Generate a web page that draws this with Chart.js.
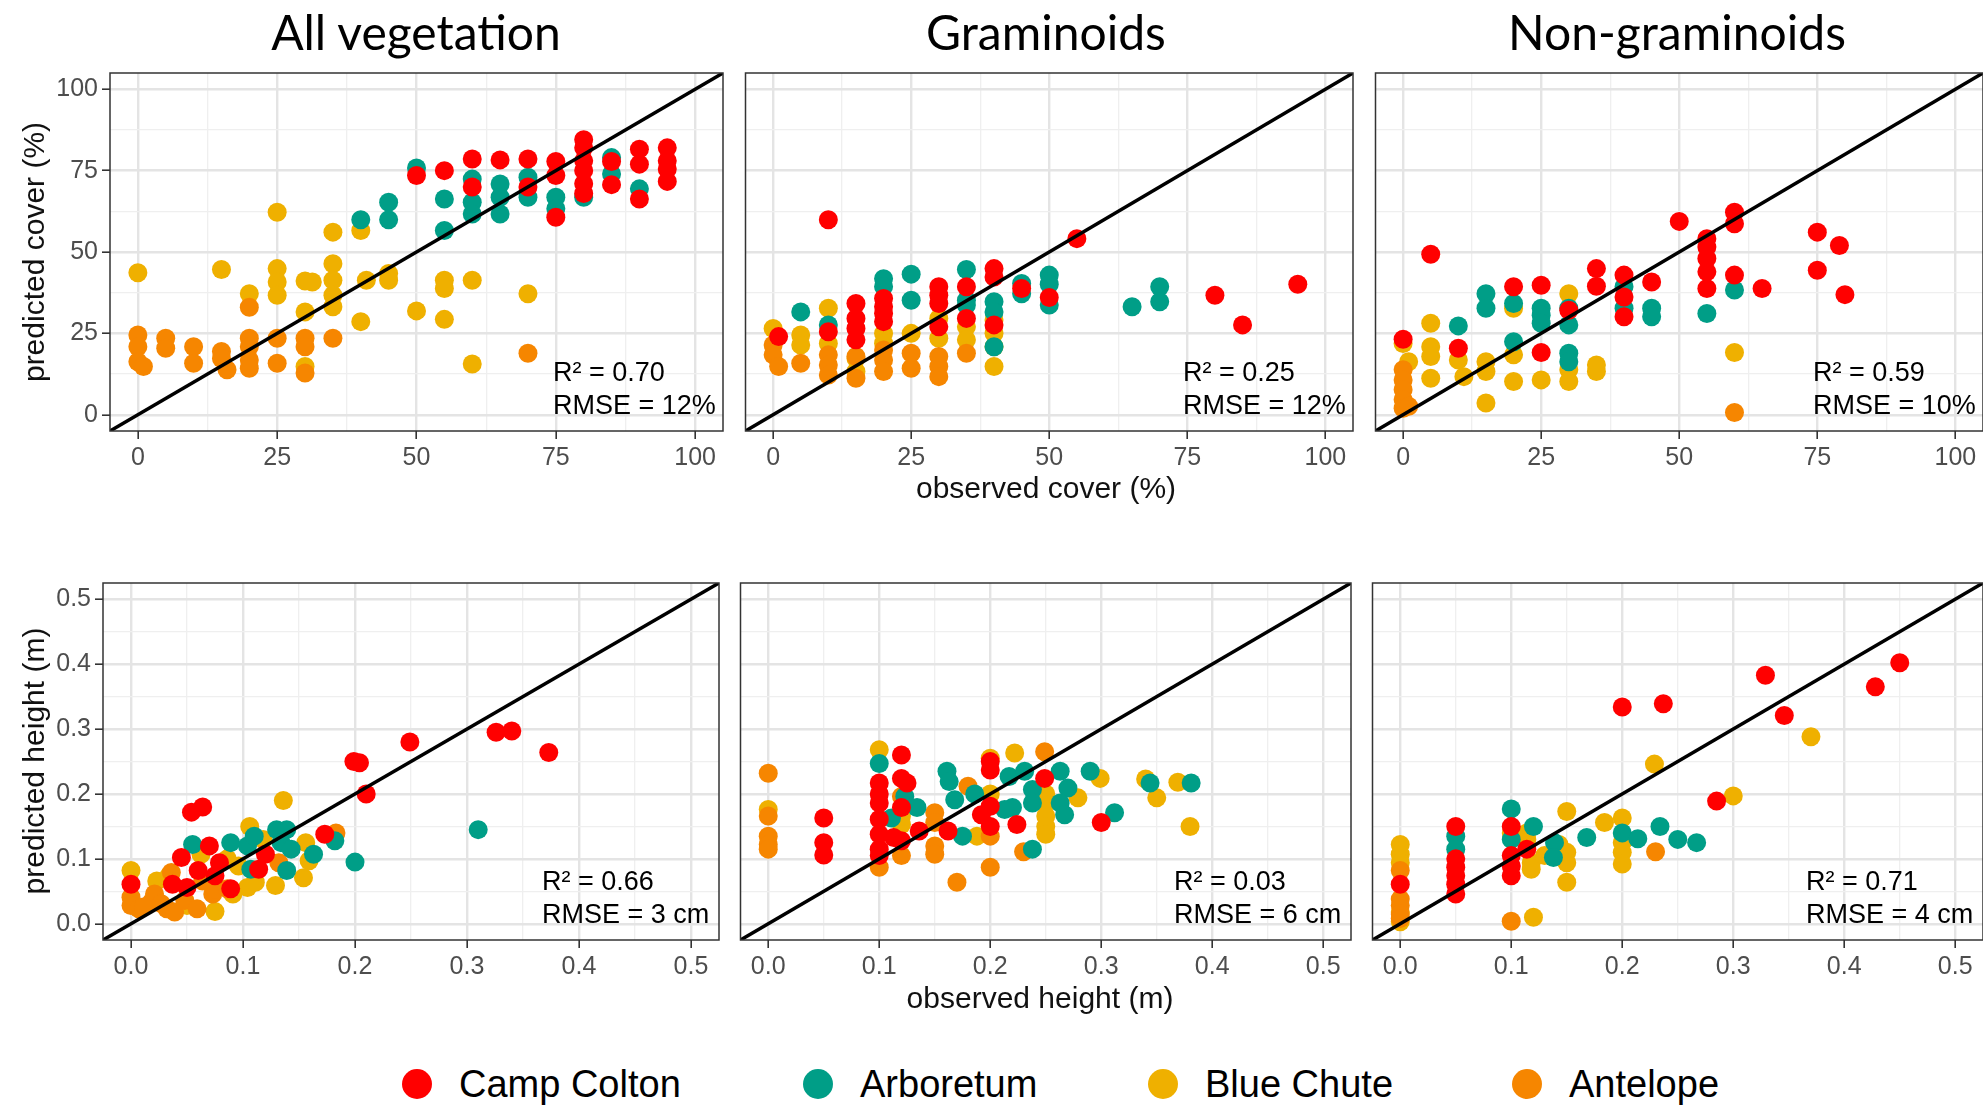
<!DOCTYPE html>
<html>
<head>
<meta charset="utf-8">
<script src="https://cdn.jsdelivr.net/npm/chart.js@4.4.1/dist/chart.umd.min.js"></script>
<style>
  html, body { margin: 0; padding: 0; background: #fff; }
  body { position: relative; width: 1983px; height: 1105px; overflow: hidden; font-family: "Liberation Sans", Arial, sans-serif; }
  canvas { position: absolute; }
  .lbl { position: absolute; white-space: nowrap; line-height: 1; transform: translate(-50%, -50%); color: #000; }
  .title { font-family: Lato, "Open Sans", sans-serif; font-size: 48px; }
  .axt { font-size: 30px; color: #111; }
  .rot { transform: translate(-50%, -50%) rotate(-90deg); }
  .leg { position: absolute; display: flex; align-items: center; font-size: 38px; line-height: 1; color: #000; }
  .dot { width: 30px; height: 30px; border-radius: 50%; margin-right: 27px; }
</style>
</head>
<body>
<script>
// ---- data -------------------------------------------------------------
const sites = ['Camp Colton', 'Arboretum', 'Blue Chute', 'Antelope'];
const siteColors = ['#ff0000', '#009e87', '#efb000', '#f68600'];

const coverTicks = [0, 25, 50, 75, 100];
const coverMinor = [12.5, 37.5, 62.5, 87.5];
const coverRange = [-5, 105];
const heightTicks = [0, 0.1, 0.2, 0.3, 0.4, 0.5];
const heightMinor = [0.05, 0.15, 0.25, 0.35, 0.45];
const heightRange = [-0.025, 0.525];

const panelTitles = ['All vegetation', 'Graminoids', 'Non-graminoids'];
const r2Values = ['0.70', '0.25', '0.59', '0.66', '0.03', '0.71'];
const rmseValues = ['12%', '12%', '10%', '3 cm', '6 cm', '4 cm'];

// All vegetation, cover (%)
const allCoverCamp = [[50,73.5],[55,75],[60,78.6],[60,70],[65,78.3],[70,78.6],[70,70],[75,77.8],[75,73.5],[75,60.7],[80,84.5],[80,82],[80,78],[80,75],[80,71],[80,68],[85,77.8],[85,70.7],[90,81.6],[90,77],[90,66.3],[95,82],[95,78],[95,75.5],[95,71.7]];
const allCoverArbo = [[40,59.9],[45,65.3],[45,59.9],[50,75.8],[55,66.3],[55,56.6],[60,72.4],[60,65.3],[60,61.7],[65,70.9],[65,66.8],[65,61.7],[70,73],[70,66.8],[75,66.8],[75,63.3],[80,66.8],[85,79],[85,74],[90,69.4]];
const allCoverBlue = [[0,43.6],[15,44.6],[20,37.2],[25,62.2],[25,44.9],[25,40.8],[25,36.7],[30,41.1],[31.3,40.8],[30,31.6],[30,14.8],[35,56.1],[35,46.4],[35,41.3],[35,36.7],[35,33.2],[40,56.6],[40,28.6],[41,41.3],[45,43.4],[45,41.3],[50,31.9],[55,41.3],[55,38.8],[55,29.3],[60,41.3],[60,15.6],[70,37.2]];
const allCoverAnte = [[0,24.5],[0,20.9],[0,16.3],[1,14.8],[5,23.5],[5,20.4],[10,20.9],[10,15.8],[15,19.4],[15,17.3],[16,13.8],[20,23.5],[20,20.9],[20,16.8],[20,14.3],[20,33],[25,23.5],[25,15.8],[30,23.5],[30,20.9],[30,12.8],[35,23.5],[70,18.9]];

// Graminoids, cover (%)
const gramCoverCamp = [[1,24],[10,59.9],[10,25.5],[15,34.2],[15,29.6],[15,26.5],[15,23],[20,35.7],[20,33.2],[20,31.1],[20,28.6],[30,39.3],[30,36.7],[30,34.2],[30,27],[35,39.3],[35,29.6],[40,44.9],[40,42.3],[40,27.6],[45,38.8],[50,36],[55,54.1],[80,36.7],[85,27.6],[95,40.1]];
const gramCoverArbo = [[5,31.6],[10,27.6],[20,41.8],[20,39.3],[25,43.2],[25,35.2],[35,44.6],[35,35.2],[35,33.7],[40,34.7],[40,31.6],[40,20.9],[45,40.3],[45,37.2],[50,42.9],[50,40.1],[50,33.7],[65,33.2],[70,39.3],[70,34.7]];
const gramCoverBlue = [[0,26.5],[5,24.5],[5,21.4],[10,32.7],[10,21.9],[15,13.3],[15,17.3],[20,25],[20,22],[25,25],[30,29.6],[30,23.5],[35,27],[35,23],[40,29.1],[40,25],[40,20.9],[40,14.8]];
const gramCoverAnte = [[0,21.4],[0,18.4],[1,14.8],[5,15.8],[10,18.4],[10,15.3],[10,12.2],[15,17.9],[15,11.2],[20,19.9],[20,16.8],[20,13.3],[25,18.9],[25,14.3],[30,17.9],[30,14.8],[30,11.7],[35,18.9]];

// Non-graminoids, cover (%)
const nonCoverCamp = [[0,23.2],[5,49.3],[10,20.4],[20,39.3],[25,39.8],[25,19.1],[30,32.1],[35,44.9],[35,39.5],[40,42.9],[40,36.2],[40,30.1],[45,40.8],[50,59.4],[55,54.1],[55,51.5],[55,48],[55,43.9],[55,38.8],[60,62.2],[60,58.7],[60,42.9],[65,38.8],[75,56.1],[75,44.4],[79,52],[80,36.9]];
const nonCoverArbo = [[10,27.3],[15,37.2],[15,32.7],[20,34.2],[20,22.4],[25,32.7],[25,30.6],[25,28.1],[30,32.7],[30,27.6],[30,18.9],[30,16.3],[40,39.3],[40,32.7],[45,32.7],[45,30.1],[55,31.1],[60,38.3]];
const nonCoverBlue = [[0,21.9],[1,16.3],[5,28.1],[5,20.9],[5,17.9],[5,11.2],[10,16.8],[11,11.7],[15,16.3],[15,13.3],[15,3.6],[20,32.7],[20,18.4],[20,10.2],[25,10.7],[30,37.2],[30,13.8],[30,10.2],[35,15.3],[35,13.3],[60,19.1]];
const nonCoverAnte = [[0,13.8],[0,10.7],[0,7.7],[0,4.6],[0,2],[1,2.6],[60,0.7]];

// All vegetation, height (m)
const allHeightCamp = [[0,0.061],[0.054,0.172],[0.064,0.18],[0.07,0.12],[0.045,0.102],[0.037,0.061],[0.05,0.056],[0.06,0.082],[0.075,0.074],[0.089,0.054],[0.079,0.094],[0.114,0.084],[0.12,0.107],[0.173,0.138],[0.199,0.25],[0.204,0.248],[0.21,0.2],[0.249,0.28],[0.326,0.295],[0.34,0.297],[0.373,0.264]];
const allHeightArbo = [[0.055,0.122],[0.089,0.125],[0.104,0.12],[0.11,0.135],[0.13,0.145],[0.139,0.145],[0.134,0.125],[0.143,0.115],[0.139,0.082],[0.163,0.107],[0.182,0.128],[0.2,0.095],[0.31,0.145],[0.107,0.084]];
const allHeightBlue = [[0,0.082],[0.023,0.066],[0.034,0.074],[0.0625,0.107],[0.086,0.1],[0.096,0.089],[0.106,0.15],[0.118,0.13],[0.136,0.19],[0.129,0.059],[0.156,0.125],[0.159,0.097],[0.154,0.071],[0.075,0.019],[0.091,0.046],[0.104,0.056],[0.111,0.064],[0.05,0.028]];
const allHeightAnte = [[0,0.041],[0,0.028],[0.007,0.023],[0.018,0.033],[0.021,0.046],[0.032,0.023],[0.039,0.018],[0.048,0.036],[0.059,0.023],[0.073,0.046],[0.075,0.054],[0.064,0.066],[0.036,0.079],[0.132,0.094],[0.183,0.14],[0.086,0.054],[0.011,0.026],[0.027,0.031]];

// Graminoids, height (m)
const gramHeightCamp = [[0.05,0.163],[0.05,0.125],[0.05,0.106],[0.1,0.217],[0.1,0.2],[0.1,0.186],[0.1,0.161],[0.1,0.138],[0.1,0.115],[0.1,0.105],[0.12,0.26],[0.12,0.224],[0.125,0.217],[0.12,0.179],[0.113,0.133],[0.12,0.128],[0.136,0.143],[0.162,0.143],[0.192,0.168],[0.2,0.25],[0.2,0.237],[0.2,0.181],[0.2,0.15],[0.224,0.153],[0.249,0.224],[0.3,0.156]];
const gramHeightArbo = [[0.1,0.247],[0.123,0.196],[0.134,0.179],[0.111,0.163],[0.161,0.235],[0.163,0.219],[0.168,0.191],[0.175,0.135],[0.186,0.2],[0.217,0.227],[0.231,0.235],[0.22,0.179],[0.213,0.176],[0.238,0.115],[0.238,0.207],[0.238,0.186],[0.263,0.235],[0.27,0.209],[0.263,0.186],[0.267,0.168],[0.29,0.235],[0.312,0.171],[0.344,0.217],[0.381,0.217]];
const gramHeightBlue = [[0,0.176],[0.1,0.268],[0.12,0.153],[0.12,0.166],[0.2,0.255],[0.222,0.263],[0.188,0.135],[0.25,0.2],[0.25,0.186],[0.25,0.166],[0.25,0.15],[0.25,0.138],[0.279,0.194],[0.299,0.224],[0.34,0.223],[0.35,0.194],[0.369,0.218],[0.38,0.15],[0.2,0.2]];
const gramHeightAnte = [[0,0.232],[0,0.166],[0,0.135],[0,0.122],[0,0.115],[0.1,0.087],[0.12,0.105],[0.12,0.196],[0.15,0.171],[0.15,0.156],[0.15,0.12],[0.15,0.107],[0.18,0.212],[0.2,0.135],[0.2,0.087],[0.17,0.064],[0.23,0.111],[0.249,0.265]];

// Non-graminoids, height (m)
const nonHeightCamp = [[0,0.061],[0.05,0.15],[0.05,0.1],[0.05,0.087],[0.05,0.074],[0.05,0.061],[0.05,0.046],[0.1,0.15],[0.1,0.105],[0.1,0.089],[0.1,0.074],[0.114,0.115],[0.2,0.334],[0.237,0.339],[0.285,0.189],[0.329,0.383],[0.346,0.321],[0.428,0.365],[0.45,0.402]];
const nonHeightArbo = [[0.05,0.135],[0.05,0.115],[0.1,0.177],[0.1,0.13],[0.12,0.15],[0.139,0.125],[0.138,0.102],[0.168,0.133],[0.2,0.14],[0.214,0.131],[0.234,0.15],[0.25,0.13],[0.267,0.125]];
const nonHeightBlue = [[0,0.122],[0,0.107],[0,0.094],[0.1,0.14],[0.114,0.14],[0.114,0.13],[0.118,0.094],[0.118,0.084],[0.13,0.105],[0.143,0.122],[0.15,0.173],[0.15,0.11],[0.15,0.094],[0.15,0.064],[0.184,0.156],[0.2,0.163],[0.2,0.125],[0.2,0.11],[0.2,0.092],[0.229,0.246],[0.3,0.197],[0.37,0.288],[0.12,0.01],[0,0.003],[0,0.018]];
const nonHeightAnte = [[0,0.082],[0,0.038],[0,0.028],[0,0.015],[0,0.008],[0.1,0.004],[0.23,0.111]];

// ---- layout -----------------------------------------------------------
const PAD_T = 24, PAD_R = 10, X_H = 50;
const panels = [
  { left: 110, top: 73, w: 613, h: 358, kind: 'cover', yLabels: true, series: [allCoverCamp, allCoverArbo, allCoverBlue, allCoverAnte] },
  { left: 740, top: 73, w: 613, h: 358, kind: 'cover', yLabels: false, series: [gramCoverCamp, gramCoverArbo, gramCoverBlue, gramCoverAnte] },
  { left: 1370, top: 73, w: 613, h: 358, kind: 'cover', yLabels: false, series: [nonCoverCamp, nonCoverArbo, nonCoverBlue, nonCoverAnte] },
  { left: 103, top: 583, w: 616, h: 357, kind: 'height', yLabels: true, series: [allHeightCamp, allHeightArbo, allHeightBlue, allHeightAnte] },
  { left: 735, top: 583, w: 616, h: 357, kind: 'height', yLabels: false, series: [gramHeightCamp, gramHeightArbo, gramHeightBlue, gramHeightAnte] },
  { left: 1367, top: 583, w: 616, h: 357, kind: 'height', yLabels: false, series: [nonHeightCamp, nonHeightArbo, nonHeightBlue, nonHeightAnte] },
];

const near = (a, b) => Math.abs(a - b) < 1e-6;
const toPts = (arr) => arr.map(([x, y]) => ({ x, y }));

// panel frame, like ggplot's theme_bw border
const borderPlugin = {
  id: 'panelBorder',
  afterDraw(chart) {
    const { ctx, chartArea: a } = chart;
    ctx.save();
    ctx.strokeStyle = '#333';
    ctx.lineWidth = 1.5;
    ctx.strokeRect(a.left, a.top, a.right - a.left, a.bottom - a.top);
    ctx.restore();
  },
};

// R² / RMSE note in lower right corner
const statsPlugin = {
  id: 'stats',
  afterDraw(chart, args, opts) {
    const { ctx, chartArea: a } = chart;
    ctx.save();
    ctx.fillStyle = '#000';
    ctx.font = '27px "Liberation Sans", Arial, sans-serif';
    ctx.textAlign = 'left';
    ctx.textBaseline = 'middle';
    ctx.fillText('R² = ' + opts.r2, a.right - opts.dx, a.bottom - 57);
    ctx.fillText('RMSE = ' + opts.rmse, a.right - opts.dx, a.bottom - 24);
    ctx.restore();
  },
};

function makeAxis(kind, showLabels, size, isY) {
  const major = kind === 'cover' ? coverTicks : heightTicks;
  const minor = kind === 'cover' ? coverMinor : heightMinor;
  const range = kind === 'cover' ? coverRange : heightRange;
  const isMajor = (v) => major.some((m) => near(m, v));
  return {
    type: 'linear',
    min: range[0],
    max: range[1],
    afterBuildTicks: (s) => {
      s.ticks = major.concat(minor).sort((a, b) => a - b).map((v) => ({ value: v }));
    },
    afterFit: (s) => {
      if (isY) s.width = size; else s.height = size;
    },
    border: { display: false },
    grid: {
      color: (c) => (c.tick && isMajor(c.tick.value) ? '#e4e4e4' : '#efefef'),
      lineWidth: (c) => (c.tick && isMajor(c.tick.value) ? 2.4 : 1.3),
      drawTicks: showLabels,
      tickLength: 8,
      tickColor: (c) => (c.tick && isMajor(c.tick.value) ? '#333' : 'rgba(0,0,0,0)'),
      tickWidth: 1.6,
    },
    ticks: {
      display: showLabels,
      autoSkip: false,
      maxRotation: 0,
      padding: 4,
      color: '#4d4d4d',
      font: { family: 'Liberation Sans', size: 25 },
      callback: (v) => (isMajor(v) ? (kind === 'cover' ? String(Math.round(v)) : v.toFixed(1)) : ''),
    },
  };
}

panels.forEach((p, i) => {
  const yW = p.yLabels ? p.left : 4;
  const W = yW + p.w + PAD_R;
  const H = PAD_T + p.h + X_H;
  const cv = document.createElement('canvas');
  cv.width = W;
  cv.height = H;
  cv.style.left = p.left - yW + 'px';
  cv.style.top = p.top - PAD_T + 'px';
  cv.style.width = W + 'px';
  cv.style.height = H + 'px';
  document.body.appendChild(cv);

  const range = p.kind === 'cover' ? coverRange : heightRange;
  const datasets = [
    {
      type: 'line',
      data: [{ x: range[0], y: range[0] }, { x: range[1], y: range[1] }],
      borderColor: '#000',
      borderWidth: 3.5,
      pointRadius: 0,
      showLine: true,
      order: 0,
    },
  ];
  p.series.forEach((s, k) => {
    datasets.push({
      label: sites[k],
      data: toPts(s),
      backgroundColor: siteColors[k],
      pointBackgroundColor: siteColors[k],
      pointBorderWidth: 0,
      pointRadius: 9.5,
      order: [1, 2, 4, 3][k],
    });
  });

  new Chart(cv, {
    type: 'scatter',
    data: { datasets },
    options: {
      responsive: false,
      devicePixelRatio: 1,
      animation: false,
      events: [],
      layout: { padding: { left: 0, top: PAD_T, right: PAD_R, bottom: 0 } },
      scales: {
        x: makeAxis(p.kind, true, X_H, false),
        y: makeAxis(p.kind, p.yLabels, yW, true),
      },
      plugins: {
        legend: { display: false },
        tooltip: { enabled: false },
        stats: { r2: r2Values[i], rmse: rmseValues[i], dx: p.kind === 'cover' ? 170 : 177 },
      },
    },
    plugins: [borderPlugin, statsPlugin],
  });
});

// ---- text around the panels ------------------------------------------
function addText(txt, cls, x, y) {
  const d = document.createElement('div');
  d.className = 'lbl ' + cls;
  d.textContent = txt;
  d.style.left = x + 'px';
  d.style.top = y + 'px';
  document.body.appendChild(d);
}
addText(panelTitles[0], 'title', 416, 32);
addText(panelTitles[1], 'title', 1046, 32);
addText(panelTitles[2], 'title', 1677, 32);
addText('predicted cover (%)', 'axt rot', 34, 252);
addText('predicted height (m)', 'axt rot', 34, 761);
addText('observed cover (%)', 'axt', 1046, 488);
addText('observed height (m)', 'axt', 1040, 998);

// legend
const legendX = [402, 803, 1148, 1512];
sites.forEach((s, k) => {
  const item = document.createElement('div');
  item.className = 'leg';
  item.style.left = legendX[k] + 'px';
  item.style.top = 1084 - 19 + 'px';
  item.innerHTML = `<span class="dot" style="background:${siteColors[k]}"></span><span>${s}</span>`;
  document.body.appendChild(item);
});
</script>
</body>
</html>
